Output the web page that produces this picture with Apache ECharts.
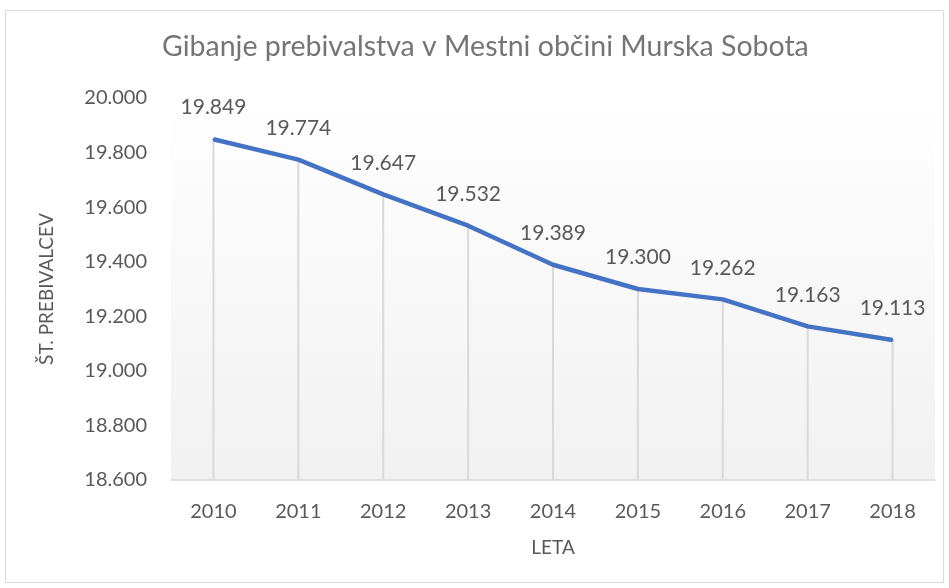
<!DOCTYPE html>
<html>
<head>
<meta charset="utf-8">
<script src="https://cdn.jsdelivr.net/npm/echarts@6/dist/echarts.min.js"></script>
<style>
html,body{margin:0;padding:0;background:#fff}
#main{width:949px;height:588px}
</style>
</head>
<body>
<div id="main"></div>
<script>
// podatki
var leta = ['2010', '2011', '2012', '2013', '2014', '2015', '2016', '2017', '2018'];
var prebivalci = [19849, 19774, 19647, 19532, 19389, 19300, 19262, 19163, 19113];
var yMin = 18600, yMax = 20000, yStep = 200;

function fmt(v) {
    return String(v).replace(/\B(?=(\d{3})+(?!\d))/g, '.');
}

var font = 'Lato, "Open Sans", sans-serif';
var chart = echarts.init(document.getElementById('main'));
chart.setOption({
    animation: false,
    textStyle: {fontFamily: font},
    title: {
        text: 'Gibanje prebivalstva v Mestni občini Murska Sobota',
        left: 162,
        top: 32,
        padding: 0,
        textStyle: {fontSize: 28.5, fontWeight: 'normal', color: '#757575', fontFamily: font}
    },
    graphic: [{
        type: 'rect',
        shape: {x: 5.5, y: 10.5, width: 938, height: 572},
        style: {fill: 'none', stroke: '#d9d9d9', lineWidth: 1},
        silent: true
    }],
    grid: {
        left: 171, right: 14, top: 98, bottom: 108,
        show: true, borderWidth: 0,
        backgroundColor: new echarts.graphic.LinearGradient(0, 0, 0, 1, [
            {offset: 0, color: '#ffffff'},
            {offset: 1, color: '#f1f1f1'}
        ])
    },
    xAxis: {
        type: 'category',
        data: leta,
        name: 'LETA',
        nameLocation: 'middle',
        nameGap: 58,
        nameTextStyle: {fontSize: 19, color: '#595959'},
        axisLine: {lineStyle: {color: '#d9d9d9', width: 1.5}},
        axisTick: {show: false},
        axisLabel: {fontSize: 20, color: '#595959', margin: 22},
        splitLine: {show: false}
    },
    yAxis: {
        type: 'value',
        min: yMin, max: yMax, interval: yStep,
        name: 'ŠT. PREBIVALCEV',
        nameLocation: 'middle',
        nameGap: 115,
        nameTextStyle: {fontSize: 19, color: '#595959'},
        axisLine: {show: false},
        axisTick: {show: false},
        splitLine: {show: false},
        axisLabel: {fontSize: 20, color: '#595959', margin: 24, formatter: fmt}
    },
    series: [{
        type: 'bar',
        data: prebivalci,
        barWidth: 2,
        itemStyle: {color: '#d9d9d9'},
        silent: true,
        z: 1
    }, {
        type: 'line',
        data: prebivalci,
        symbol: 'circle',
        symbolSize: 2,
        itemStyle: {color: '#4472c4'},
        lineStyle: {color: '#4472c4', width: 4.5},
        label: {
            show: true, position: 'top', distance: 20,
            fontSize: 21, color: '#595959',
            formatter: function (p) { return fmt(p.value); }
        },
        z: 3
    }]
});
</script>
</body>
</html>
